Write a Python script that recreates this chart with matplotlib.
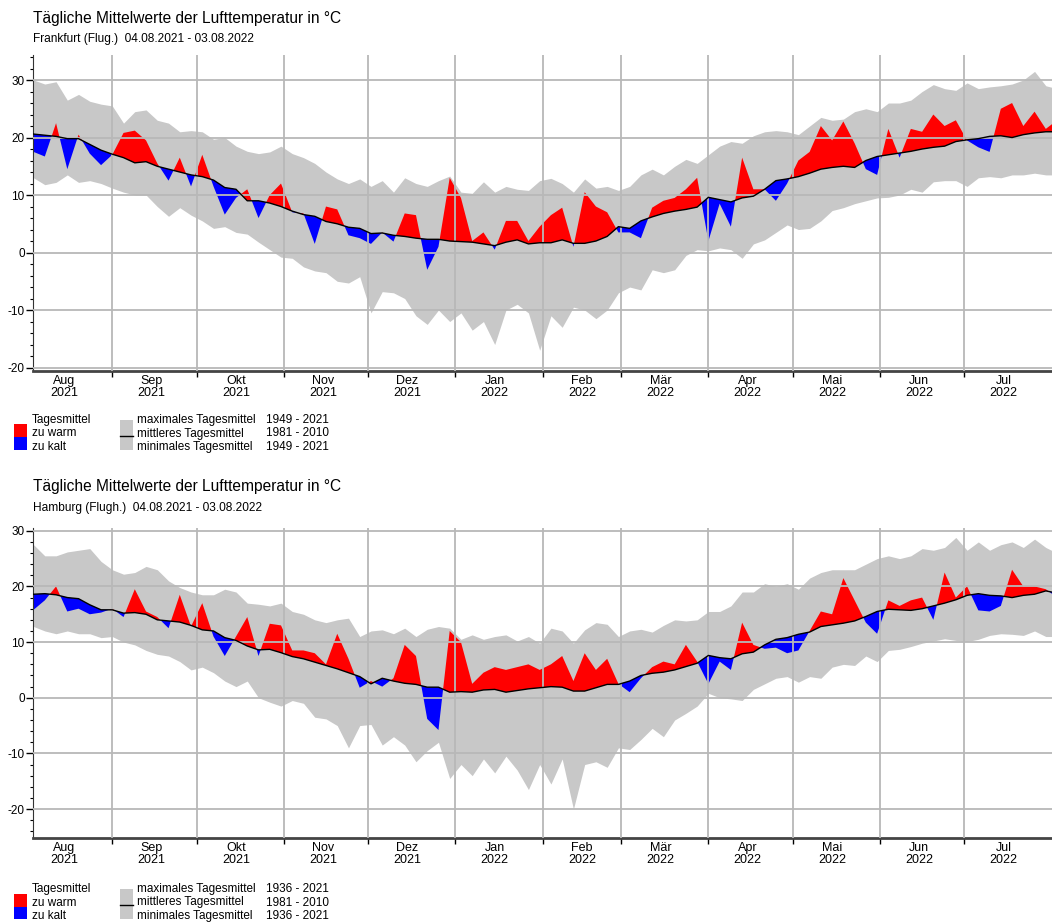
import datetime as dt
import numpy as np
import matplotlib
matplotlib.use("Agg")
import matplotlib.pyplot as plt
from matplotlib.patches import Rectangle
from matplotlib.lines import Line2D
from matplotlib.ticker import MultipleLocator

plt.rcParams['font.family'] = ['Liberation Sans', 'DejaVu Sans']
plt.rcParams['axes.unicode_minus'] = False

W, H = 1052, 923
START = dt.date(2021, 8, 4)

# sampling days (offset from 04.08.2021), every 4 days
days = np.arange(0, 368, 4)

# ---- Frankfurt (Flug.) ----
fra_actual = [17.5, 16.7, 22.5, 14.5, 20.5, 17.2, 15.2, 17.0, 20.8, 21.2, 19.5, 15.5,
              12.5, 16.5, 11.5, 17.0, 11.5, 6.6, 9.5, 11.0, 6.0, 10.0, 12.0, 7.0,
              6.8, 1.5, 8.0, 7.5, 3.0, 2.5, 1.5, 3.5, 1.9, 6.8, 6.5, -3.0,
              1.0, 13.0, 9.5, 2.0, 3.5, 0.5, 5.5, 5.5, 2.0, 4.5, 6.5, 7.8,
              1.0, 10.5, 8.0, 7.0, 3.5, 3.5, 2.5, 7.8, 9.0, 9.5, 11.0, 13.0,
              2.0, 8.5, 4.5, 16.5, 11.0, 11.0, 9.0, 12.0, 16.0, 17.5, 22.0, 19.5,
              22.8, 19.0, 14.5, 13.5, 21.5, 16.5, 21.5, 21.0, 24.0, 22.0, 23.0, 19.5,
              18.3, 17.5, 25.0, 26.0, 22.0, 24.5, 21.5, 23.0]
fra_mean = [20.6, 20.4, 20.2, 19.8, 19.8, 18.8, 17.8, 17.1, 16.5, 15.6, 15.8, 15.0,
            14.5, 14.0, 13.5, 13.2, 12.6, 11.3, 11.0, 9.0, 9.0, 8.6, 8.0, 7.2,
            6.6, 6.3, 5.4, 5.0, 4.4, 4.2, 3.3, 3.4, 3.0, 2.8, 2.5, 2.3,
            2.3, 2.0, 1.9, 1.8, 1.5, 1.2, 1.8, 2.2, 1.5, 1.7, 1.7, 2.2,
            1.6, 1.6, 2.0, 2.8, 4.5, 4.2, 5.5, 6.2, 6.8, 7.2, 7.5, 7.9,
            9.6, 9.2, 8.8, 9.5, 9.8, 11.0, 12.5, 12.8, 13.2, 13.8, 14.5, 14.8,
            15.0, 14.8, 16.0, 16.7, 17.0, 17.3, 17.6, 18.0, 18.3, 18.5, 19.3, 19.6,
            19.8, 20.2, 20.3, 20.0, 20.5, 20.8, 21.0, 21.0]
fra_max = [30.0, 29.3, 29.7, 26.5, 27.5, 26.3, 25.8, 25.5, 22.5, 24.5, 24.8, 23.0,
           22.5, 21.0, 21.2, 21.0, 19.7, 20.0, 18.5, 17.6, 17.2, 17.5, 18.5, 17.2,
           16.5, 15.5, 14.0, 12.8, 12.0, 12.8, 11.5, 12.5, 10.5, 13.0, 12.0, 11.5,
           12.5, 13.3, 10.5, 10.3, 12.3, 10.5, 11.5, 11.0, 10.8, 12.5, 12.9, 12.0,
           10.5, 12.8, 11.2, 11.5, 10.8, 11.5, 13.5, 14.5, 13.5, 15.0, 16.2, 15.5,
           17.0, 18.5, 19.3, 19.0, 20.3, 21.0, 21.2, 21.0, 20.5, 22.0, 23.5, 23.0,
           23.2, 24.5, 25.0, 24.5, 26.0, 26.0, 26.5, 28.0, 29.2, 28.5, 28.2, 29.5,
           28.5, 28.8, 29.0, 29.3, 30.0, 31.5, 29.0, 28.5]
fra_min = [13.0, 11.8, 12.2, 13.5, 12.2, 12.5, 12.0, 11.2, 10.5, 10.0, 10.0, 8.0,
           6.3, 7.8, 6.5, 5.5, 4.2, 4.5, 3.5, 3.2, 1.8, 0.5, -0.8, -1.0,
           -2.5, -3.2, -3.5, -5.0, -5.3, -4.2, -10.5, -6.8, -7.0, -8.0, -11.0, -12.5,
           -10.0, -12.0, -10.5, -13.5, -12.0, -16.0, -10.0, -9.0, -10.5, -17.0, -11.0, -13.0,
           -9.5, -10.0, -11.5, -10.0, -7.0, -6.0, -6.5, -3.0, -3.5, -3.0, -0.5, 0.5,
           0.3, 0.8, 0.5, -1.0, 1.5, 2.2, 3.5, 4.8, 4.0, 4.2, 5.5, 7.3,
           7.8, 8.5, 9.0, 9.5, 9.6, 10.0, 11.0, 10.5, 12.3, 12.5, 12.5, 11.5,
           13.0, 13.2, 13.0, 13.5, 13.5, 13.8, 13.5, 13.5]

# ---- Hamburg (Flugh.) ----
ham_actual = [15.8, 17.5, 20.0, 15.5, 16.0, 15.0, 15.3, 16.0, 14.5, 19.5, 15.5, 14.5,
              12.5, 18.5, 12.8, 17.0, 11.0, 7.5, 11.0, 14.5, 7.5, 13.3, 13.0, 8.5,
              8.5, 8.0, 6.0, 11.5, 7.0, 1.8, 3.0, 2.0, 3.5, 9.5, 7.5, -3.8,
              -5.8, 12.0, 10.0, 2.5, 4.5, 5.5, 5.0, 5.5, 6.0, 5.0, 6.0, 7.5,
              3.0, 8.0, 5.0, 7.0, 2.5, 1.0, 3.5, 5.5, 6.5, 6.0, 9.5, 6.5,
              2.5, 6.5, 5.0, 13.5, 9.5, 8.8, 9.0, 8.0, 8.5, 12.0, 15.5, 15.0,
              21.5, 17.5, 13.5, 11.5, 17.5, 16.5, 17.5, 18.0, 14.0, 22.5, 18.0, 20.0,
              15.7, 15.5, 16.5, 23.0, 20.0, 20.0, 19.5, 18.0]
ham_mean = [18.6, 18.7, 18.5, 18.0, 17.8, 16.7, 15.8, 15.8, 15.2, 15.3, 15.0, 14.0,
            13.8, 13.6, 13.0, 12.2, 12.0, 10.8, 10.3, 9.3, 8.6, 8.7, 8.1, 7.4,
            7.0, 6.4, 5.8, 5.2, 4.5, 3.8, 2.5, 3.5, 3.0, 2.6, 2.4, 1.9,
            1.9, 1.0, 1.1, 1.0, 1.4, 1.5, 1.0, 1.3, 1.6, 1.8, 2.0, 1.9,
            1.2, 1.2, 1.8, 2.4, 2.4, 3.0, 4.0, 4.4, 4.6, 5.0, 5.6, 6.2,
            7.6, 7.2, 7.0, 7.9, 8.2, 9.5, 10.5, 10.8, 11.4, 11.8, 12.8, 13.1,
            13.4, 13.8, 14.6, 15.5, 15.9, 15.8, 15.7, 16.0, 16.5, 17.0, 17.6, 18.4,
            18.7, 18.4, 18.3, 18.0, 18.4, 18.6, 19.2, 18.8]
ham_max = [27.5, 25.5, 25.5, 26.2, 26.5, 26.8, 24.5, 23.0, 22.2, 22.5, 23.6, 23.0,
           21.0, 19.8, 19.0, 18.5, 18.5, 19.5, 19.0, 17.0, 16.8, 16.5, 17.0, 15.5,
           15.0, 14.0, 13.5, 14.0, 14.3, 11.0, 12.0, 12.2, 11.5, 12.5, 11.0, 12.3,
           12.8, 12.5, 10.5, 11.3, 10.5, 11.0, 11.3, 10.2, 11.0, 9.8, 12.5, 12.0,
           9.8, 12.2, 13.5, 13.2, 11.0, 12.0, 12.3, 11.8, 13.0, 14.0, 13.8, 14.0,
           15.5, 15.5, 16.5, 19.0, 19.0, 20.5, 20.0, 20.5, 19.5, 21.5, 22.5, 23.0,
           23.0, 23.0, 24.0, 25.0, 25.5, 25.0, 25.5, 26.8, 26.5, 27.0, 28.8, 26.5,
           28.0, 26.5, 27.5, 28.0, 27.0, 28.5, 27.0, 26.0]
ham_min = [12.8, 12.0, 11.5, 12.0, 11.5, 11.5, 10.8, 11.0, 10.0, 9.5, 8.5, 7.8,
           7.5, 6.5, 5.0, 5.5, 4.5, 3.0, 2.0, 3.0, 0.0, -0.8, -1.5, -0.5,
           -1.0, -3.5, -3.8, -5.0, -9.0, -5.0, -4.8, -8.5, -7.0, -8.5, -11.5, -9.5,
           -8.0, -14.5, -12.0, -14.0, -11.0, -13.5, -10.5, -13.0, -16.5, -12.0, -15.5, -11.0,
           -20.0, -12.0, -11.5, -12.5, -9.0, -9.3, -7.5, -5.5, -7.0, -4.0, -2.8, -1.5,
           0.8, 0.0, -0.2, -0.5, 1.5, 2.5, 3.5, 3.8, 2.8, 3.8, 3.5, 5.5,
           6.0, 5.8, 7.5, 6.5, 8.5, 8.7, 9.2, 9.8, 10.2, 10.6, 10.3, 10.1,
           10.5, 11.2, 11.5, 11.4, 11.2, 12.0, 11.0, 11.0]

months = ['Aug', 'Sep', 'Okt', 'Nov', 'Dez', 'Jan', 'Feb', 'Mär', 'Apr', 'Mai', 'Jun', 'Jul']
month_years = [2021] * 5 + [2022] * 7
month_nums = [8, 9, 10, 11, 12, 1, 2, 3, 4, 5, 6, 7]

RED, BLUE, GREY, GRID = '#ff0000', '#0000ff', '#c8c8c8', '#b8b8b8'


def fx(x):
    return x / W


def fy(y):
    return 1 - y / H


def draw_panel(fig, dy, top, bottom, ylim, station, period, act, mean, hi, lo):
    ax = fig.add_axes([fx(33), fy(bottom), fx(W - 33), (bottom - top) / H])
    a, m = np.array(act), np.array(mean)
    ax.fill_between(days, lo, hi, color=GREY, lw=0, zorder=1)
    ax.fill_between(days, m, a, where=a >= m, interpolate=True, color=RED, lw=0, zorder=2)
    ax.fill_between(days, m, a, where=a <= m, interpolate=True, color=BLUE, lw=0, zorder=2)
    ax.plot(days, m, color='black', lw=1.0, zorder=4)

    starts = [(dt.date(y, mo, 1) - START).days for y, mo in zip(month_years, month_nums)][1:]
    mids = [(dt.date(y, mo, 15) - START).days for y, mo in zip(month_years, month_nums)]
    for s in starts:
        ax.axvline(s, color=GRID, lw=1.3, zorder=3)
    for v in range(-20, 40, 10):
        ax.axhline(v, color=GRID, lw=1.3, zorder=3)

    ax.set_xlim(-0.2, 362.2)
    ax.set_ylim(*ylim)
    ax.set_xticks(starts)
    ax.set_xticklabels([])
    ax.set_xticks(mids, minor=True)
    ax.set_xticklabels([f'{mn}\n{yr}' for mn, yr in zip(months, month_years)],
                       minor=True, fontsize=9, linespacing=0.95)
    ax.tick_params(axis='x', which='major', length=4, width=1, direction='out')
    ax.tick_params(axis='x', which='minor', length=0, pad=3)
    ax.set_yticks(range(-20, 40, 10))
    ax.yaxis.set_minor_locator(MultipleLocator(2))
    ax.tick_params(axis='y', which='major', length=5, width=1, labelsize=8.5, pad=1)
    ax.tick_params(axis='y', which='minor', length=2.5, width=0.8)
    for sp in ('top', 'right'):
        ax.spines[sp].set_visible(False)
    ax.spines['left'].set_color('#333333')
    ax.spines['bottom'].set_color('#444444')
    ax.spines['bottom'].set_linewidth(2)

    fig.text(fx(33), fy(18 + dy), 'Tägliche Mittelwerte der Lufttemperatur in °C',
             fontsize=11.2, va='center', ha='left')
    fig.text(fx(33), fy(39 + dy), f'{station}  04.08.2021 - 03.08.2022',
             fontsize=8.6, va='center', ha='left')

    # legend
    ly = 420 + dy
    fig.add_artist(Rectangle((fx(14), fy(ly + 18)), fx(13), 13.5 / H,
                             transform=fig.transFigure, color=RED, lw=0))
    fig.add_artist(Rectangle((fx(14), fy(ly + 30)), fx(13), 12.5 / H,
                             transform=fig.transFigure, color=BLUE, lw=0))
    fig.add_artist(Rectangle((fx(120), fy(ly + 30)), fx(13), 30 / H,
                             transform=fig.transFigure, color=GREY, lw=0))
    fig.add_artist(Line2D([fx(120), fx(133)], [fy(ly + 16), fy(ly + 16)],
                          transform=fig.transFigure, color='black', lw=1))
    for i, s in enumerate(['Tagesmittel', 'zu warm', 'zu kalt']):
        fig.text(fx(32), fy(ly + i * 13.5), s, fontsize=8.5, va='center')
    labels = ['maximales Tagesmittel', 'mittleres Tagesmittel', 'minimales Tagesmittel']
    periods = [period, '1981 - 2010', period]
    for i, (s, p) in enumerate(zip(labels, periods)):
        fig.text(fx(137), fy(ly + i * 13.5), s, fontsize=8.5, va='center')
        fig.text(fx(266), fy(ly + i * 13.5), p, fontsize=8.5, va='center')
    return ax


fig = plt.figure(figsize=(W / 100, H / 100), dpi=100)
draw_panel(fig, 0, 55, 371, (-20.6, 34.35), 'Frankfurt (Flug.)', '1949 - 2021',
           fra_actual, fra_mean, fra_max, fra_min)
draw_panel(fig, 469, 528, 838, (-25.2, 30.5), 'Hamburg (Flugh.)', '1936 - 2021',
           ham_actual, ham_mean, ham_max, ham_min)
fig.savefig('out.png', dpi=100)
